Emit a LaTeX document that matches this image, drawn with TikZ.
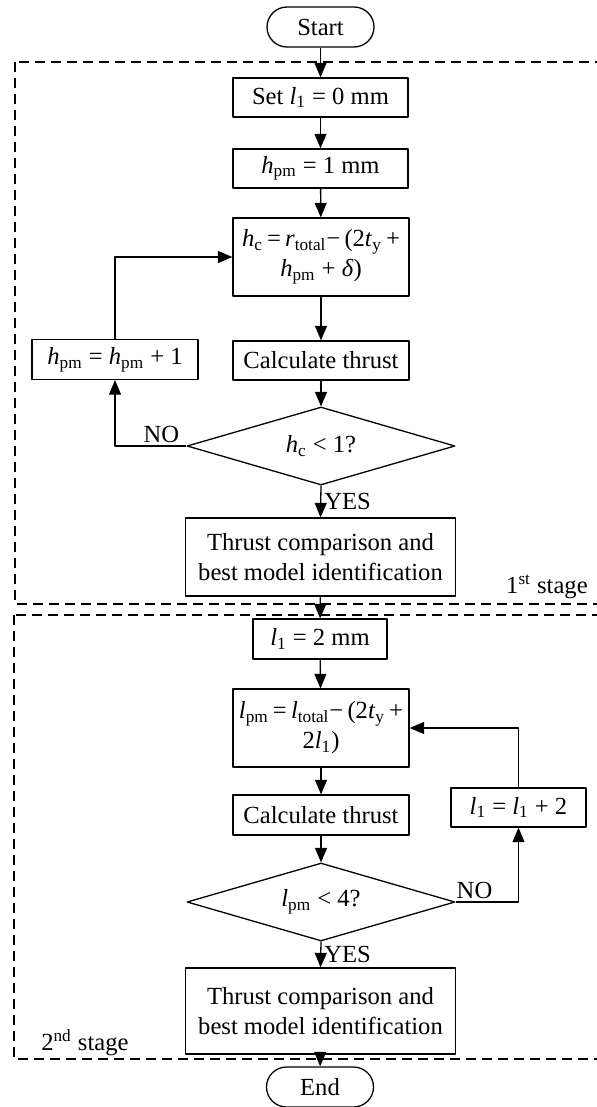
\documentclass[tikz,border=0pt]{standalone}
\usepackage{fontspec}
\setmainfont{Liberation Serif}
\usepackage{tikz}
\usetikzlibrary{arrows,shapes.geometric}
\newcommand{\vs}[2]{\textit{#1}\textsubscript{#2}}

\begin{document}
\begin{tikzpicture}[line join=round,>=triangle 45,x=0.5pt,y=-0.5pt,line width=0.65pt,
  every node/.style={font=\fontsize{12.3}{15}\selectfont},
  proc/.style={draw,rectangle,inner sep=0pt,minimum height=19.5pt},
  term/.style={draw,rectangle,rounded corners=10pt,inner sep=0pt,minimum width=53.5pt,minimum height=20pt},
  test/.style={draw,diamond,aspect=3.4,inner sep=0pt,minimum width=134pt,minimum height=39pt},
  lbl/.style={inner sep=1.5pt},
  stage/.style={dash pattern=on 5pt off 3pt}]
\clip (0,0) rectangle (597,1107);
\draw[stage] (15,62) rectangle (640,604);
\draw[stage] (14,615) rectangle (640,1059);
\node[term] (start) at (320.5,27) {Start};
\node[proc,minimum width=87.5pt] (set) at (320.5,97.5) {Set \vs{l}{1} = 0 mm};
\node[proc,minimum width=87.5pt] (hpm) at (320.5,168.5) {\vs{h}{pm} = 1 mm};
\node[proc,minimum width=88pt,minimum height=39pt,align=center] (hc) at (321,257) {\spaceskip=0.17em\relax\vs{h}{c} = \vs{r}{total}− (2\vs{t}{y} +\\\vs{h}{pm} + \textit{δ})};
\node[proc,minimum width=88pt] (calca) at (321,360.5) {Calculate thrust};
\node[proc,minimum width=83pt,minimum height=20pt] (inca) at (115,359.5) {\vs{h}{pm} = \vs{h}{pm} + 1};
\node[test] (checka) at (321,446) {\vs{h}{c} < 1?};
\node[proc,minimum width=135pt,minimum height=39pt,align=center] (besta) at (320.5,557) {Thrust comparison and\\best model identification};
\node[anchor=base east] (stagea) at (595,593) {1\textsuperscript{st} stage};
\node[proc,minimum width=67pt,minimum height=20pt] (lone) at (320,639) {\vs{l}{1} = 2 mm};
\node[proc,minimum width=88pt,minimum height=39pt,align=center] (lpm) at (321,728) {\spaceskip=0.17em\relax\vs{l}{pm} = \vs{l}{total}− (2\vs{t}{y} +\\2\vs{l}{1})};
\node[proc,minimum width=88pt,minimum height=20pt] (calcb) at (321,815) {Calculate thrust};
\node[proc,minimum width=67.5pt] (incb) at (518.5,807.5) {\vs{l}{1} = \vs{l}{1} + 2};
\node[test] (checkb) at (321,902) {\vs{l}{pm} < 4?};
\node[proc,minimum width=135pt,minimum height=43pt,align=center] (bestb) at (320.5,1011) {Thrust comparison and\\best model identification};
\node[anchor=base west] (stageb) at (34,1050) {2\textsuperscript{nd} stage};
\node[term] (end) at (320,1087) {End};
\draw[->] (start) -- (set);
\draw[->] (set) -- (hpm);
\draw[->] (hpm) -- (hc);
\draw[->] (hc) -- (calca);
\draw[->] (calca) -- (checka);
\draw[->] (checka.west) -- node[lbl,above,pos=0.35] {NO} (inca |- checka.west) -- (inca.south);
\draw[->] (inca.north) |- (hc.west);
\draw[->] (checka.south) -- node[lbl,right] {YES} (besta.north);
\draw[->] (besta) -- (lone);
\draw[->] (lone) -- (lpm);
\draw[->] (lpm) -- (calcb);
\draw[->] (calcb) -- (checkb);
\draw[->] (checkb.east) -- node[lbl,above,pos=0.3] {NO} (incb |- checkb.east) -- (incb.south);
\draw[->] (incb.north) |- (lpm.east);
\draw[->] (checkb.south) -- node[lbl,right] {YES} (bestb.north);
\draw[->] (bestb) -- (end);
\end{tikzpicture}
\end{document}
